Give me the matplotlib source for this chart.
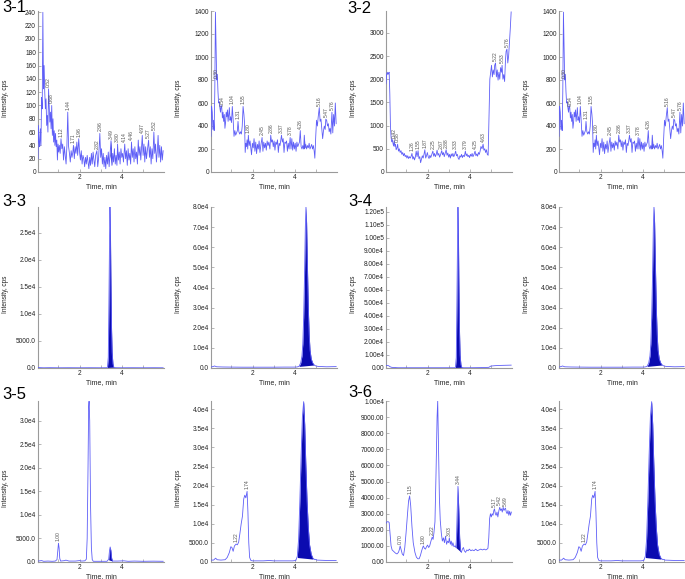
import numpy as np
import matplotlib
matplotlib.use("Agg")
import matplotlib.pyplot as plt

plt.rcParams['font.family'] = ['Liberation Sans', 'DejaVu Sans']

LINE = '#5e5ef7'
FILL = '#0b0bb0'
SPINE = '#9a9a9a'

# ---- 3-1 left: noisy trace
t_a = [0.03, 0.05, 0.08, 0.11, 0.14, 0.17, 0.20, 0.23, 0.26, 0.29, 0.32, 0.35, 0.38, 0.41, 0.44, 0.47,
       0.50, 0.53, 0.56, 0.59, 0.62, 0.65, 0.68, 0.71, 0.74, 0.77, 0.80, 0.83, 0.86, 0.89, 0.92, 0.95,
       0.98, 1.01, 1.04, 1.08, 1.12, 1.16, 1.20, 1.24, 1.28, 1.32, 1.36, 1.40, 1.44, 1.48, 1.52, 1.56,
       1.60, 1.64, 1.68, 1.71, 1.75, 1.79, 1.83, 1.87, 1.91, 1.96, 2.00, 2.04, 2.08, 2.12, 2.16, 2.20,
       2.24, 2.28, 2.32, 2.36, 2.40, 2.44, 2.48, 2.52, 2.56, 2.60, 2.64, 2.68, 2.72, 2.76, 2.82, 2.86,
       2.90, 2.96, 3.00, 3.04, 3.08, 3.12, 3.16, 3.20, 3.24, 3.28, 3.32, 3.36, 3.40, 3.44, 3.49, 3.53,
       3.57, 3.61, 3.65, 3.69, 3.73, 3.77, 3.80, 3.84, 3.88, 3.92, 3.96, 4.00, 4.04, 4.08, 4.14, 4.18,
       4.22, 4.26, 4.30, 4.34, 4.38, 4.42, 4.46, 4.50, 4.54, 4.58, 4.62, 4.66, 4.70, 4.74, 4.78, 4.82,
       4.86, 4.90, 4.97, 5.01, 5.05, 5.09, 5.13, 5.17, 5.21, 5.27, 5.31, 5.35, 5.39, 5.43, 5.47, 5.52,
       5.56, 5.60, 5.64, 5.68, 5.72, 5.76, 5.80, 5.84, 5.88, 5.92, 5.96]
y_a = [20, 70, 45, 38, 65, 40, 112, 95, 240, 125, 160, 120, 95, 110, 70, 85,
       60, 125, 100, 75, 90, 65, 100, 55, 80, 45, 62, 40, 58, 38, 48, 18,
       42, 30, 40, 28, 50, 35, 42, 18, 38, 25, 12, 40, 90, 38, 28, 15,
       32, 22, 30, 40, 20, 38, 28, 45, 25, 50, 30, 18, 32, 12, 25, 20,
       8, 22, 12, 25, 15, 5, 22, 10, 28, 12, 30, 18, 8, 25, 32, 8,
       20, 58, 22, 35, 12, 28, 8, 22, 5, 25, 12, 30, 8, 25, 47, 10,
       28, 15, 35, 12, 25, 10, 42, 18, 30, 12, 35, 22, 28, 15, 42, 20,
       32, 10, 35, 18, 28, 12, 45, 22, 35, 15, 38, 20, 30, 12, 48, 25,
       38, 18, 55, 25, 42, 15, 38, 20, 32, 48, 22, 38, 12, 35, 20, 60,
       28, 42, 15, 30, 55, 22, 40, 15, 38, 18, 32]
fill_a = (3.44, 3.53)
lab_a = ['0.52', '0.68', '1.12', '1.44', '1.71', '1.96', '2.82', '2.96', '3.49', '3.80',
         '4.14', '4.46', '4.97', '5.27', '5.52']
yt_a = [0, 20, 40, 60, 80, 100, 120, 140, 160, 180, 200, 220, 240]
yl_a = ['0', '20', '40', '60', '80', '100', '120', '140', '160', '180', '200', '220', '240']

# ---- 3-1 right / 3-2 right: noisy trace
t_b = [0.03, 0.06, 0.09, 0.12, 0.15, 0.18, 0.21, 0.24, 0.27, 0.30, 0.33, 0.36, 0.39, 0.42, 0.45, 0.48,
       0.51, 0.54, 0.57, 0.60, 0.63, 0.66, 0.69, 0.72, 0.75, 0.78, 0.81, 0.84, 0.87, 0.90, 0.93, 0.96,
       1.00, 1.04, 1.08, 1.12, 1.16, 1.20, 1.24, 1.28, 1.31, 1.35, 1.39, 1.43, 1.47, 1.51, 1.55, 1.59,
       1.62, 1.65, 1.68, 1.71, 1.74, 1.77, 1.80, 1.84, 1.88, 1.92, 1.95, 1.99, 2.03, 2.07, 2.11, 2.15,
       2.19, 2.23, 2.27, 2.31, 2.35, 2.39, 2.45, 2.49, 2.53, 2.57, 2.61, 2.65, 2.69, 2.73, 2.77, 2.82,
       2.86, 2.90, 2.94, 2.98, 3.02, 3.06, 3.10, 3.14, 3.18, 3.22, 3.26, 3.30, 3.37, 3.41, 3.45, 3.49,
       3.53, 3.57, 3.61, 3.65, 3.69, 3.73, 3.78, 3.82, 3.86, 3.90, 3.94, 3.98, 4.02, 4.06, 4.10, 4.14,
       4.18, 4.22, 4.26, 4.30, 4.34, 4.38, 4.42, 4.45, 4.48, 4.52, 4.56, 4.60, 4.64, 4.68, 4.72, 4.76,
       4.80, 4.84, 4.88, 4.92, 4.95, 4.99, 5.03, 5.07, 5.11, 5.16, 5.20, 5.24, 5.28, 5.32, 5.36, 5.40,
       5.44, 5.47, 5.51, 5.55, 5.59, 5.63, 5.67, 5.71, 5.76, 5.80, 5.84, 5.88, 5.92, 5.96]
y_b = [310, 570, 520, 370, 450, 360, 700, 1390, 1100, 800, 850, 700, 600, 610, 560, 520,
       580, 560, 470, 520, 440, 500, 380, 430, 520, 480, 540, 440, 500, 560, 450, 480,
       430, 570, 450, 310, 360, 320, 340, 360, 440, 350, 330, 350, 330, 400, 570, 500,
       420, 170, 250, 220, 280, 200, 320, 230, 270, 200, 150, 250, 210, 290, 180, 260,
       160, 240, 200, 270, 170, 230, 300, 180, 260, 210, 250, 190, 270, 230, 260, 200,
       320, 260, 280, 220, 270, 190, 260, 240, 280, 170, 250, 230, 320, 260, 290, 170,
       260, 250, 270, 180, 250, 200, 300, 200, 290, 190, 260, 200, 250, 180, 260, 220,
       240, 260, 360, 220, 200, 230, 200, 320, 210, 240, 200, 230, 210, 250, 200, 220,
       240, 200, 230, 180, 120, 300, 450, 400, 480, 560, 440, 460, 380, 290, 360, 400,
       370, 460, 450, 400, 420, 350, 380, 330, 520, 340, 500, 400, 600, 420]
fill_b = (4.42, 4.49)
lab_b = ['0.30', '0.54', '1.04', '1.31', '1.55', '1.80', '2.45', '2.86', '3.37', '3.78',
         '4.26', '5.16', '5.47', '5.76']
yt_b = [0, 200, 400, 600, 800, 1000, 1200, 1400]
yl_b = ['0', '200', '400', '600', '800', '1000', '1200', '1400']

# ---- 3-2 left
t_c = [0.03, 0.06, 0.09, 0.12, 0.15, 0.18, 0.21, 0.24, 0.27, 0.30, 0.33, 0.36, 0.39, 0.42, 0.45, 0.48,
       0.51, 0.55, 0.58, 0.62, 0.66, 0.70, 0.74, 0.78, 0.82, 0.86, 0.90, 0.94, 0.98, 1.02, 1.06, 1.10,
       1.14, 1.18, 1.22, 1.26, 1.30, 1.34, 1.38, 1.42, 1.46, 1.50, 1.55, 1.59, 1.63, 1.67, 1.71, 1.75,
       1.79, 1.83, 1.87, 1.91, 1.95, 1.99, 2.03, 2.07, 2.11, 2.15, 2.20, 2.25, 2.29, 2.33, 2.37, 2.41,
       2.45, 2.49, 2.53, 2.57, 2.62, 2.67, 2.71, 2.75, 2.79, 2.83, 2.88, 2.92, 2.96, 3.00, 3.04, 3.08,
       3.12, 3.16, 3.20, 3.24, 3.28, 3.33, 3.37, 3.41, 3.45, 3.49, 3.53, 3.57, 3.61, 3.65, 3.69, 3.74,
       3.79, 3.83, 3.87, 3.91, 3.95, 3.99, 4.03, 4.07, 4.11, 4.15, 4.20, 4.25, 4.29, 4.33, 4.37, 4.41,
       4.45, 4.49, 4.53, 4.58, 4.63, 4.67, 4.71, 4.75, 4.79, 4.83, 4.87, 4.91, 4.95, 4.99, 5.03, 5.07,
       5.11, 5.15, 5.18, 5.22, 5.26, 5.30, 5.34, 5.38, 5.42, 5.46, 5.50, 5.53, 5.57, 5.61, 5.65, 5.69,
       5.72, 5.76, 5.80, 5.84, 5.88, 5.92, 5.96]
y_c = [1900, 2100, 2150, 2100, 2130, 2150, 1700, 1000, 750, 650, 700, 620, 560, 680, 550, 600,
       480, 520, 600, 450, 500, 420, 460, 380, 420, 350, 400, 330, 360, 300, 350, 290,
       330, 300, 340, 400, 280, 330, 260, 320, 450, 330, 460, 290, 330, 200, 280, 350,
       300, 380, 480, 300, 350, 420, 330, 290, 360, 310, 380, 450, 340, 400, 330, 380,
       470, 360, 400, 320, 380, 460, 370, 420, 330, 400, 480, 360, 410, 320, 380, 300,
       390, 340, 400, 330, 370, 450, 350, 380, 300, 270, 350, 320, 380, 310, 360, 330,
       450, 350, 390, 330, 360, 310, 380, 340, 400, 330, 380, 450, 350, 390, 340, 420,
       380, 450, 550, 500, 600, 470, 500, 420, 480, 380, 360, 1200, 2000, 2150, 2300, 2050,
       2200, 2100, 2300, 2350, 2050, 2200, 1980, 2150, 2000, 2250, 2150, 2300, 2000, 2100, 1950, 2400,
       2600, 2650, 2350, 2500, 2800, 3100, 3450]
fill_c = (3.45, 3.53)
lab_c = ['0.42', '0.58', '1.26', '1.55', '1.87', '2.25', '2.67', '2.88', '3.33', '3.79',
         '4.25', '4.63', '5.22', '5.53', '5.76']
yt_c = [0, 500, 1000, 1500, 2000, 2500, 3000]
yl_c = ['0', '500', '1000', '1500', '2000', '2500', '3000']

# ---- 3-3 left
t_d = [0.03, 0.30, 0.60, 1.00, 1.50, 2.00, 2.50, 3.00, 3.28, 3.32, 3.36, 3.39, 3.42, 3.44, 3.46, 3.48,
       3.51, 3.54, 3.58, 3.62, 3.70, 4.00, 4.50, 5.00, 5.50, 5.96]
y_d = [80, 40, 60, 40, 50, 40, 50, 40, 50, 100, 2000, 12000, 24000, 29800, 26000, 18000,
       8000, 3000, 800, 150, 50, 40, 50, 40, 50, 40]
fill_d = (3.32, 3.62)
yt_d = [0, 5000, 10000, 15000, 20000, 25000]
yl_d = ['0.0', '5000.0', '1.0e4', '1.5e4', '2.0e4', '2.5e4']

# ---- 3-3 right / 3-4 right
t_e = [0.03, 0.12, 0.20, 0.30, 0.60, 1.00, 1.50, 2.00, 2.50, 3.00, 3.50, 4.00, 4.10, 4.20, 4.28, 4.34,
       4.38, 4.42, 4.46, 4.50, 4.53, 4.56, 4.60, 4.64, 4.68, 4.72, 4.78, 4.85, 4.92, 5.00, 5.10, 5.50, 5.96]
y_e = [500, 700, 1000, 600, 500, 450, 400, 400, 400, 400, 450, 450, 500, 800, 2500, 6000,
       12000, 25000, 45000, 70000, 80000, 72000, 50000, 30000, 17000, 9000, 4500, 2500, 1500, 1000, 800, 600, 700]
fill_e = (4.20, 4.92)
yt_e = [0, 10000, 20000, 30000, 40000, 50000, 60000, 70000, 80000]
yl_e = ['0.0', '1.0e4', '2.0e4', '3.0e4', '4.0e4', '5.0e4', '6.0e4', '7.0e4', '8.0e4']

# ---- 3-4 left
t_f = [0.03, 0.15, 0.22, 0.30, 0.60, 1.00, 1.50, 2.00, 2.50, 3.00, 3.28, 3.32, 3.36, 3.39, 3.42, 3.44,
       3.46, 3.48, 3.51, 3.54, 3.58, 3.62, 3.70, 4.00, 4.50, 4.90, 5.00, 5.20, 5.50, 5.96]
y_f = [2000, 1800, 1000, 500, 200, 200, 200, 200, 200, 200, 200, 400, 8000, 50000, 100000, 123500,
       105000, 70000, 30000, 10000, 2500, 500, 200, 200, 300, 500, 1500, 1800, 2000, 2200]
fill_f = (3.32, 3.62)
yt_f = [0, 10000, 20000, 30000, 40000, 50000, 60000, 70000, 80000, 90000, 100000, 110000, 120000]
yl_f = ['0.00', '1.00e4', '2.00e4', '3.00e4', '4.00e4', '5.00e4', '6.00e4', '7.00e4',
        '8.00e4', '9.00e4', '1.00e5', '1.10e5', '1.20e5']

# ---- 3-5 left
t_g = [0.03, 0.20, 0.30, 0.50, 0.70, 0.85, 0.93, 0.97, 1.00, 1.03, 1.06, 1.10, 1.30, 1.35, 1.50, 1.80,
       2.00, 2.10, 2.25, 2.32, 2.36, 2.40, 2.43, 2.45, 2.48, 2.52, 2.56, 2.60, 2.65, 3.00, 3.30, 3.38,
       3.42, 3.45, 3.48, 3.52, 3.56, 3.80, 4.10, 4.30, 4.60, 5.00, 5.50, 5.96]
y_g = [200, 300, 150, 200, 150, 200, 500, 2500, 4000, 3000, 800, 200, 300, 400, 200, 200,
       300, 200, 250, 600, 5000, 20000, 33000, 34200, 30000, 12000, 3000, 500, 150, 150, 150, 600,
       2500, 3200, 2500, 800, 200, 200, 250, 150, 200, 150, 180, 150]
fill_g = (3.36, 3.56)
lab_g = ['1.00']
yt_g = [0, 5000, 10000, 15000, 20000, 25000, 30000]
yl_g = ['0.0', '5000.0', '1.0e4', '1.5e4', '2.0e4', '2.5e4', '3.0e4']

# ---- 3-5 right / 3-6 right
t_h = [0.03, 0.15, 0.25, 0.32, 0.50, 0.70, 0.80, 0.90, 0.97, 1.02, 1.08, 1.14, 1.22, 1.28, 1.34, 1.40,
       1.46, 1.52, 1.58, 1.63, 1.68, 1.74, 1.78, 1.82, 1.86, 1.92, 2.00, 2.50, 2.80, 3.00, 3.50, 3.90,
       4.05, 4.12, 4.18, 4.24, 4.30, 4.36, 4.42, 4.47, 4.52, 4.58, 4.64, 4.70, 4.78, 4.86, 4.95, 5.00,
       5.05, 5.50, 5.96]
y_h = [500, 500, 1000, 600, 500, 600, 1200, 2500, 4000, 3800, 2800, 4200, 4700, 4500, 5200, 7500,
       10000, 12000, 16500, 17500, 16800, 18500, 13000, 5000, 1200, 400, 300, 300, 400, 300, 300, 300,
       400, 1500, 6000, 16000, 28000, 38000, 42000, 36000, 26000, 16000, 9000, 4500, 2000, 1000, 600, 700,
       500, 400, 400]
fill_h = (4.10, 4.92)
lab_h = ['1.22', '1.74']
yt_h = [0, 5000, 10000, 15000, 20000, 25000, 30000, 35000, 40000]
yl_h = ['0.0', '5000.0', '1.0e4', '1.5e4', '2.0e4', '2.5e4', '3.0e4', '3.5e4', '4.0e4']

# ---- 3-6 left
t_i = [0.03, 0.08, 0.14, 0.18, 0.22, 0.27, 0.32, 0.40, 0.48, 0.55, 0.62, 0.67, 0.70, 0.74, 0.80, 0.86,
       0.92, 0.98, 1.05, 1.10, 1.15, 1.20, 1.26, 1.32, 1.40, 1.47, 1.54, 1.60, 1.66, 1.72, 1.77, 1.80,
       1.85, 1.90, 1.95, 2.00, 2.05, 2.10, 2.16, 2.22, 2.26, 2.30, 2.35, 2.40, 2.45, 2.48, 2.52, 2.56,
       2.60, 2.65, 2.70, 2.75, 2.80, 2.85, 2.90, 2.95, 3.00, 3.03, 3.08, 3.12, 3.16, 3.20, 3.25, 3.30,
       3.34, 3.37, 3.40, 3.44, 3.48, 3.52, 3.56, 3.60, 3.65, 3.70, 3.74, 3.80, 3.86, 3.92, 3.98, 4.05,
       4.12, 4.20, 4.28, 4.36, 4.44, 4.52, 4.60, 4.68, 4.76, 4.82, 4.86, 4.90, 4.94, 4.98, 5.02, 5.06,
       5.10, 5.14, 5.17, 5.21, 5.25, 5.29, 5.33, 5.38, 5.42, 5.46, 5.50, 5.54, 5.58, 5.62, 5.66, 5.69,
       5.73, 5.77, 5.81, 5.85, 5.89, 5.93, 5.97]
y_i = [2400, 2500, 2500, 2450, 1800, 1000, 750, 650, 550, 500, 600, 800, 1000, 800, 500, 400,
       900, 1800, 3000, 3800, 4100, 3500, 2200, 1200, 600, 300, 200, 200, 400, 700, 900, 1000,
       850, 800, 950, 1050, 900, 1000, 1300, 1550, 1400, 1800, 2500, 5500, 9000, 10000, 7000, 4000,
       2600, 1800, 1300, 1500, 1200, 1600, 1100, 1300, 1200, 1500, 1100, 1300, 1000, 1200, 950, 1000,
       900, 1500, 3000, 4700, 3200, 1500, 700, 600, 800, 900, 700, 600, 750, 700, 800, 700,
       750, 700, 800, 700, 750, 800, 750, 800, 750, 800, 850, 1500, 2700, 3000, 2800, 3000,
       2900, 3200, 3300, 3000, 2900, 3100, 2800, 3200, 3400, 3200, 3300, 3100, 3400, 3200, 3300, 3350,
       3100, 3000, 3200, 2900, 3150, 2900, 3100]
fill_i = (3.34, 3.60)
lab_i = ['0.70', '1.15', '1.80', '2.22', '3.03', '3.44', '5.17', '5.42', '5.69']
yt_i = [0, 1000, 2000, 3000, 4000, 5000, 6000, 7000, 8000, 9000, 10000]
yl_i = ['0.00', '1000.00', '2000.00', '3000.00', '4000.00', '5000.00', '6000.00', '7000.00',
        '8000.00', '9000.00', '1.00e4']

panel_names = ['3-1', '3-2', '3-3', '3-4', '3-5', '3-6']


def draw(ax, t, y, span, labels, yt, yl, ytop):
    t = np.array(t, dtype=float)
    y = np.array(y, dtype=float)
    m = (t >= span[0]) & (t <= span[1])
    y0, y1 = np.interp(span[0], t, y), np.interp(span[1], t, y)
    base = np.interp(t[m], [span[0], span[1]], [y0, y1])
    ax.fill_between(t[m], base, np.maximum(y[m], base), color=FILL, lw=0, zorder=2)
    ax.plot(t, y, color=LINE, lw=0.6, zorder=3)
    for s in labels:
        p = float(s)
        near = np.abs(t - p) <= 0.025
        ytxt = y[near].max() if near.any() else np.interp(p, t, y)
        ax.annotate(s, xy=(p, ytxt), xytext=(0, 1.5), textcoords='offset points',
                    rotation=90, ha='center', va='bottom', fontsize=3.6, color='#555555')
    ax.set_xlim(0.03, 6.0)
    ax.set_ylim(0, ytop)
    ax.set_yticks(yt)
    ax.set_yticklabels(yl)
    ax.set_xticks([2, 4])
    ax.set_xticks([1, 3, 5], minor=True)
    for side in ['top', 'right']:
        ax.spines[side].set_visible(False)
    for side in ['left', 'bottom']:
        ax.spines[side].set_color(SPINE)
        ax.spines[side].set_linewidth(0.8)
    ax.tick_params(axis='both', which='both', direction='in', length=2, width=0.5,
                   color=SPINE, labelsize=4.7, pad=1.5, labelcolor='#222222')
    ax.set_xlabel('Time, min', fontsize=5, labelpad=1.5, color='#222222')
    ax.set_ylabel('Intensity, cps', fontsize=4.7, color='#222222')
    ax.yaxis.set_label_coords(-29 / 126, 0.46)


fig = plt.figure(figsize=(6.85, 5.79), dpi=100)
W, H = 685.0, 579.0
col_left = [38, 211, 386, 559]
row_top = [11, 207, 401]
ax_w, ax_h = 126, 161

panels = [
    (0, 0, t_a, y_a, fill_a, lab_a, yt_a, yl_a, 242),
    (0, 1, t_b, y_b, fill_b, lab_b, yt_b, yl_b, 1400),
    (0, 2, t_c, y_c, fill_c, lab_c, yt_c, yl_c, 3470),
    (0, 3, t_b, y_b, fill_b, lab_b, yt_b, yl_b, 1400),
    (1, 0, t_d, y_d, fill_d, [], yt_d, yl_d, 29800),
    (1, 1, t_e, y_e, fill_e, [], yt_e, yl_e, 80000),
    (1, 2, t_f, y_f, fill_f, [], yt_f, yl_f, 123600),
    (1, 3, t_e, y_e, fill_e, [], yt_e, yl_e, 80000),
    (2, 0, t_g, y_g, fill_g, lab_g, yt_g, yl_g, 34250),
    (2, 1, t_h, y_h, fill_h, lab_h, yt_h, yl_h, 42170),
    (2, 2, t_i, y_i, fill_i, lab_i, yt_i, yl_i, 10000),
    (2, 3, t_h, y_h, fill_h, lab_h, yt_h, yl_h, 42170),
]

for r, c, t, y, span, labs, yt, yl, ytop in panels:
    ax = fig.add_axes([col_left[c] / W, 1 - (row_top[r] + ax_h) / H, ax_w / W, ax_h / H])
    draw(ax, t, y, span, labs, yt, yl, ytop)

name_pos = [(2, 0), (347, 1), (2, 194), (348, 194), (2, 387), (348, 385)]
for name, (px, py) in zip(panel_names, name_pos):
    fig.text(px / W, 1 - py / H, name, fontsize=12, ha='left', va='top', color='black')

fig.savefig('out.png', dpi=100)
